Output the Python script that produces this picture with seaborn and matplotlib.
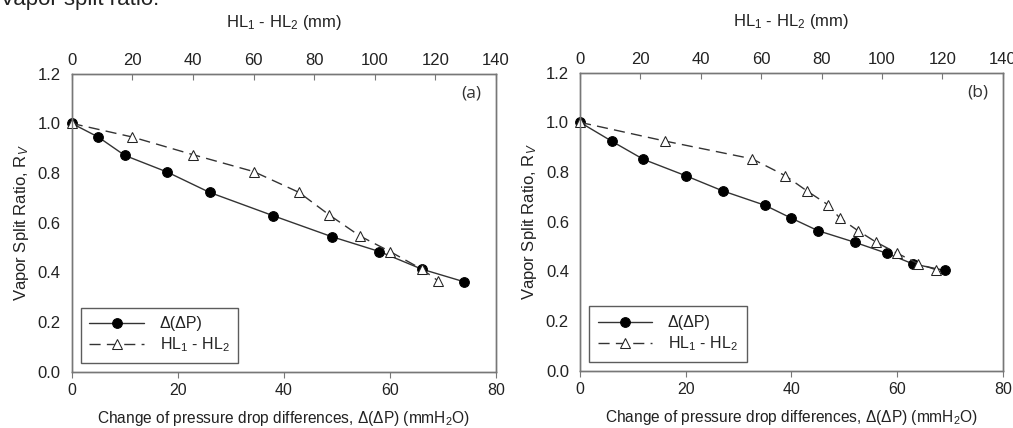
import matplotlib
matplotlib.use("Agg")
import matplotlib.pyplot as plt
import seaborn as sns

sns.set_theme(style="white")
plt.rcParams.update({
    'font.family': ['Liberation Sans', 'DejaVu Sans'],
    'font.size': 12,
    'mathtext.fontset': 'custom',
    'mathtext.rm': 'Liberation Sans',
    'mathtext.it': 'Liberation Sans:italic',
    'text.color': '#222222',
    'axes.labelcolor': '#222222',
    'xtick.color': '#222222',
    'ytick.color': '#222222',
})

# panel (a)
dp_a = [0, 5, 10, 18, 26, 38, 49, 58, 66, 74]
rv_dp_a = [1.0, 0.945, 0.871, 0.804, 0.722, 0.628, 0.544, 0.484, 0.413, 0.362]
hl_a = [0, 20, 40, 60, 75, 85, 95, 105, 115.5, 121]
rv_hl_a = [1.0, 0.945, 0.874, 0.806, 0.722, 0.631, 0.547, 0.484, 0.413, 0.365]

# panel (b)
dp_b = [0, 6, 12, 20, 27, 35, 40, 45, 52, 58, 63, 69]
rv_dp_b = [1.0, 0.924, 0.851, 0.785, 0.724, 0.666, 0.614, 0.564, 0.517, 0.473, 0.430, 0.404]
hl_b = [0, 28, 57, 68, 75, 82, 86, 92, 98, 105, 112, 118]
rv_hl_b = [1.0, 0.925, 0.853, 0.785, 0.725, 0.669, 0.615, 0.564, 0.518, 0.473, 0.431, 0.406]

x_ticks = [0, 20, 40, 60, 80]
top_ticks = [0, 20, 40, 60, 80, 100, 120, 140]
y_ticks = [0.0, 0.2, 0.4, 0.6, 0.8, 1.0, 1.2]

spine_col = "#777777"

fig = plt.figure(figsize=(10.13, 4.28), dpi=100)
axes = [fig.add_axes([0.0708, 0.1315, 0.4189, 0.6963]),
        fig.add_axes([0.5726, 0.1339, 0.4173, 0.6963])]

panels = [(dp_a, rv_dp_a, hl_a, rv_hl_a, "(a)"),
          (dp_b, rv_dp_b, hl_b, rv_hl_b, "(b)")]

for ax, (dp, rv_dp, hl, rv_hl, tag) in zip(axes, panels):
    top = ax.twiny()
    sns.lineplot(x=dp, y=rv_dp, ax=ax, sort=False, color="#333333", linewidth=1.0,
                 marker="o", markersize=7, markerfacecolor="black",
                 markeredgecolor="black", clip_on=False, label="Δ(ΔP)", legend=False)
    sns.lineplot(x=hl, y=rv_hl, ax=top, sort=False, color="#333333", linewidth=1.0,
                 linestyle=(0, (8, 4.5)), marker="^", markersize=7.5,
                 markerfacecolor="white", markeredgecolor="#222222", clip_on=False,
                 label=r"HL$_1$ - HL$_2$", legend=False)

    ax.set_xlim(0, 80)
    ax.set_ylim(0, 1.2)
    top.set_xlim(0, 140)
    ax.set_xticks(x_ticks)
    ax.set_yticks(y_ticks)
    ax.set_yticklabels([f"{v:.1f}" for v in y_ticks])
    top.set_xticks(top_ticks)

    ax.tick_params(axis="y", direction="out", length=4, width=0.8,
                   color=spine_col, labelsize=12, pad=4)
    ax.tick_params(axis="x", direction="out", length=4, width=0.8,
                   color=spine_col, labelsize=11.5, pad=4)
    top.tick_params(axis="x", direction="in", length=4, width=0.8,
                    color=spine_col, labelsize=12, pad=4)

    for a in (ax, top):
        for s in a.spines.values():
            s.set_color(spine_col)
            s.set_linewidth(1.0)

    ax.set_xlabel(r"Change of pressure drop differences, Δ(ΔP) (mmH$_2$O)",
                  fontsize=11.2, labelpad=8)
    ax.set_ylabel(r"Vapor Split Ratio, R$_V$", fontsize=12, labelpad=5)
    top.set_xlabel(r"HL$_1$ - HL$_2$ (mm)", fontsize=12, labelpad=19)

    ax.text(0.965, 0.935, tag, transform=ax.transAxes, ha="right", va="center",
            fontsize=12.5, family=["Open Sans", "DejaVu Sans"], color="#333333")

    h1, l1 = ax.get_legend_handles_labels()
    h2, l2 = top.get_legend_handles_labels()
    leg = top.legend(h1 + h2, l1 + l2, loc="lower left", bbox_to_anchor=(0.021, 0.03),
                     borderaxespad=0, frameon=True, fancybox=False, edgecolor="#333333",
                     handlelength=3.4, fontsize=11.5, borderpad=0.55, labelspacing=0.25,
                     handletextpad=1.0)
    leg.get_frame().set_linewidth(1.0)

fig.text(0.0, 1 - 5 / 428, "Vapor split ratio.", fontsize=16, va="baseline",
         ha="left", color="#222222")

fig.savefig("out.png", dpi=100)
